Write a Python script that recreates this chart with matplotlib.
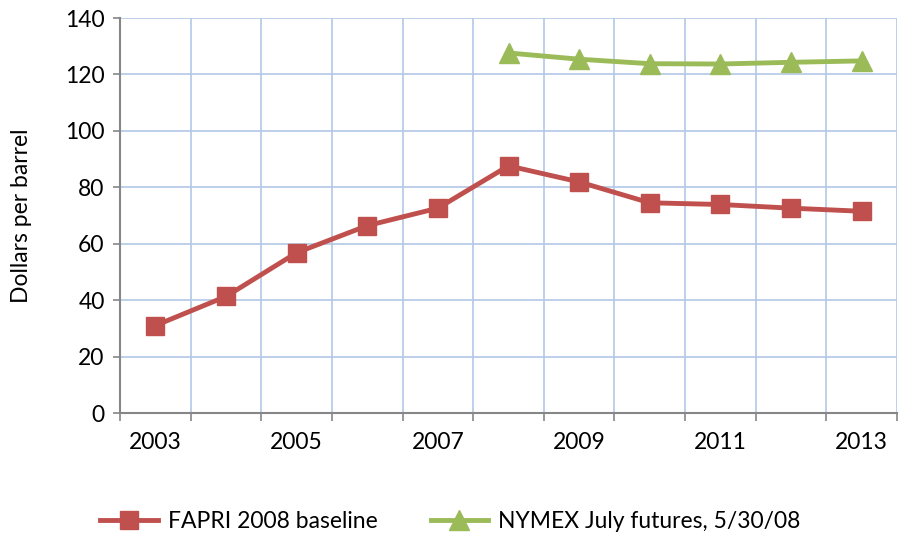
import matplotlib
matplotlib.use("Agg")
import matplotlib.pyplot as plt
import numpy as np

years = ["2003", "2004", "2005", "2006", "2007", "2008", "2009", "2010", "2011", "2012", "2013"]
fapri = [31.0, 41.3, 56.8, 66.4, 72.6, 87.6, 81.9, 74.5, 73.9, 72.6, 71.5]
nymex_years = ["2008", "2009", "2010", "2011", "2012", "2013"]
nymex = [127.6, 125.4, 123.8, 123.7, 124.3, 124.8]
yticks = [0, 20, 40, 60, 80, 100, 120, 140]

plt.rcParams['font.family'] = ['Lato', 'DejaVu Sans']
fs = 16.5

fig = plt.figure(figsize=(9.01, 5.40), dpi=100)
ax = fig.add_axes([120/901, 1-413/540, (897-120)/901, (413-18)/540])

xf = np.arange(len(years))
xn = np.array([years.index(y) for y in nymex_years])

red = "#C0504D"
green = "#9BBB59"
ax.plot(xf, fapri, color=red, lw=3.5, marker="s", ms=13, mec=red, label="FAPRI 2008 baseline", zorder=3)
ax.plot(xn, nymex, color=green, lw=3.5, marker="^", ms=14, mec=green, label="NYMEX July futures, 5/30/08", zorder=3)

ax.set_xlim(-0.5, len(years) - 0.5)
ax.set_ylim(0, 140)
ax.set_yticks(yticks)
ax.set_yticklabels([str(v) for v in yticks], fontsize=fs)

ax.set_xticks(xf[::2])
ax.set_xticklabels(years[::2], fontsize=fs)
ax.tick_params(axis='x', length=0, pad=14)
ax.set_xticks(np.arange(-0.5, len(years), 1), minor=True)
ax.tick_params(axis='x', which='minor', length=6, color="#868686", width=1.2)
ax.tick_params(axis='y', length=5, color="#868686", width=1.2, pad=6)

grid_c = "#B3C8E6"
ax.grid(False)
for v in yticks[1:]:
    ax.axhline(v, color=grid_c, lw=1.2, zorder=1)
for b in np.arange(0.5, len(years) - 0.5, 1):
    ax.axvline(b, color=grid_c, lw=1.2, zorder=1)
ax.axvline(len(years) - 0.5, color=grid_c, lw=1.2, zorder=1)

for s in ["top", "right"]:
    ax.spines[s].set_visible(False)
for s in ["left", "bottom"]:
    ax.spines[s].set_color("#868686")
    ax.spines[s].set_linewidth(1.5)

ax.set_ylabel("Dollars per barrel", fontsize=fs)
ax.yaxis.set_label_coords(-(120-32)/777, 0.5)

fig.legend(loc="center", bbox_to_anchor=(0.5, 1-522/540), ncol=2, frameon=False,
           fontsize=fs, handlelength=2.5, columnspacing=2.3, handletextpad=0.45)

fig.savefig("out.png", dpi=100)
